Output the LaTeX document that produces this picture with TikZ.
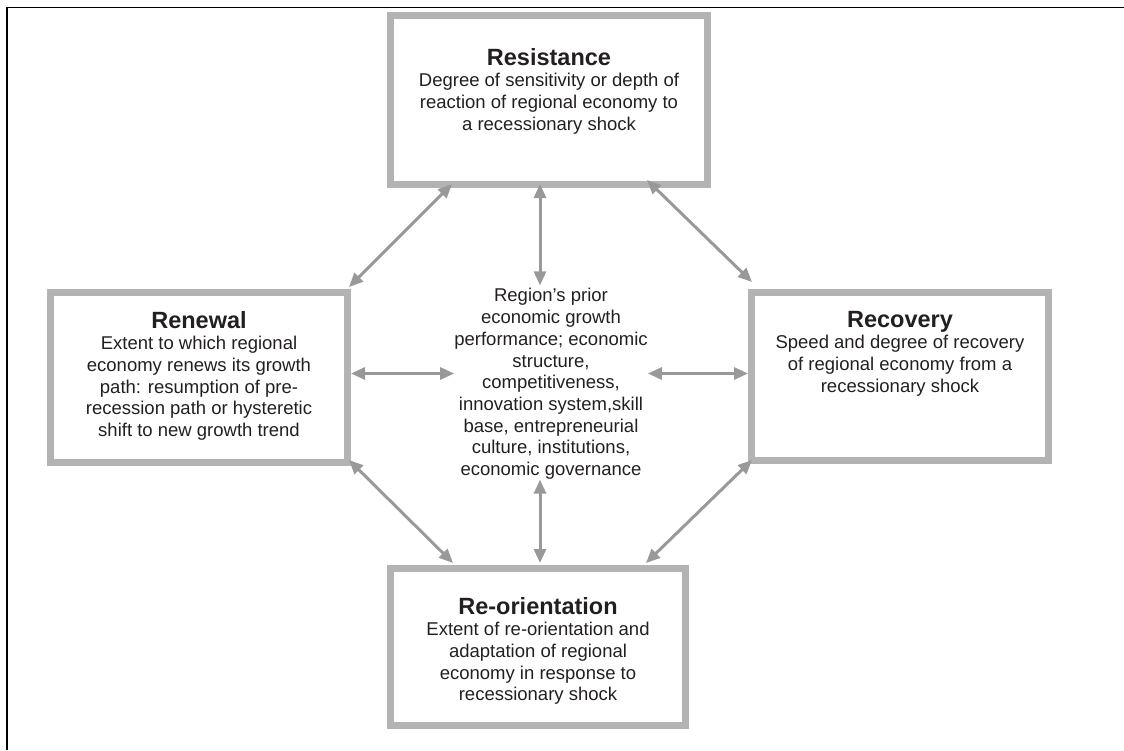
\documentclass[tikz,border=0pt]{standalone}
\usepackage{fontspec}
\setmainfont{Liberation Sans}
\usepackage{xcolor}
\usetikzlibrary{arrows.meta,positioning}
\definecolor{boxgray}{HTML}{B3B3B3}
\definecolor{arrgray}{HTML}{999999}
\definecolor{inkgray}{HTML}{231F20}

\begin{document}
\begin{tikzpicture}[x=1pt,y=-1pt,
  box/.style={draw=boxgray,line width=7pt,inner sep=0pt},
  ttl/.style={anchor=base,inner sep=0pt,text=inkgray,font=\fontsize{23.5}{26}\selectfont\bfseries},
  txt/.style={anchor=north,inner sep=0pt,align=center,text=inkgray,font=\fontsize{18.5}{21.7}\selectfont},
  arr/.style={draw=arrgray,line width=3pt,{Triangle[length=14pt,width=12pt]}-{Triangle[length=14pt,width=12pt]}}]
\useasboundingbox (0,0) rectangle (1124,750);
\draw[line width=1.6pt] (7,750) -- (7,7.6) -- (1124,7.6);

% the four boxes
\node[box,minimum width=317pt,minimum height=169pt] (resist) at (549,100) {};
\node[box,minimum width=297pt,minimum height=170pt] (renew) at (199,377.5) {};
\node[box,minimum width=297pt,minimum height=168pt] (recov) at (900,376.5) {};
\node[box,minimum width=295pt,minimum height=157pt] (reor) at (538,647) {};

\node[ttl] (resistT) at ([yshift=-53pt]resist.north) {Resistance};
\node[txt] (resistB) at ([yshift=-8pt]resistT.base) {Degree of sensitivity or depth of\\reaction of regional economy to\\a recessionary shock};

\node[ttl] (renewT) at ([yshift=-39pt]renew.north) {Renewal};
\node[txt] (renewB) at ([yshift=-8pt]renewT.base) {Extent to which regional\\economy renews its growth\\path: resumption of pre-\\recession path or hysteretic\\shift to new growth trend};

\node[ttl] (recovT) at ([yshift=-38pt]recov.north) {Recovery};
\node[txt] (recovB) at ([yshift=-8pt]recovT.base) {Speed and degree of recovery\\of regional economy from a\\recessionary shock};

\node[ttl] (reorT) at ([yshift=-49pt]reor.north) {Re-orientation};
\node[txt] (reorB) at ([yshift=-8pt]reorT.base) {Extent of re-orientation and\\adaptation of regional\\economy in response to\\recessionary shock};

% centre
\node[txt,anchor=center] (ctr) at (551,384) {Region's prior\\economic growth\\performance; economic\\structure,\\competitiveness,\\innovation system,skill\\base, entrepreneurial\\culture, institutions,\\economic governance};

% arrows
\draw[arr] ([xshift=65pt,yshift=4pt]resist.south west) -- ([xshift=-2pt,yshift=2pt]renew.north east);
\draw[arr] ([xshift=-64pt,yshift=8pt]resist.south east) -- ([xshift=4pt,yshift=7pt]recov.north west);
\draw[arr] ([xshift=2pt,yshift=4pt]resist.south -| reor.north) -- ([xshift=2pt,yshift=3pt]reor.north |- ctr.north);
\draw[arr] ([yshift=4pt]renew.east) -- ([yshift=4pt]renew.east -| ctr.west);
\draw[arr] ([yshift=3pt]recov.west -| ctr.east) -- ([yshift=3pt]recov.west);
\draw[arr] ([xshift=2pt]reor.north |- ctr.south) -- ([xshift=2pt,yshift=2pt]reor.north);
\draw[arr] ([xshift=-2pt,yshift=6pt]renew.south east) -- ([xshift=66pt,yshift=2pt]reor.north west);
\draw[arr] ([xshift=4pt,yshift=4pt]recov.south west) -- ([xshift=-43pt,yshift=2pt]reor.north east);
\end{tikzpicture}
\end{document}
